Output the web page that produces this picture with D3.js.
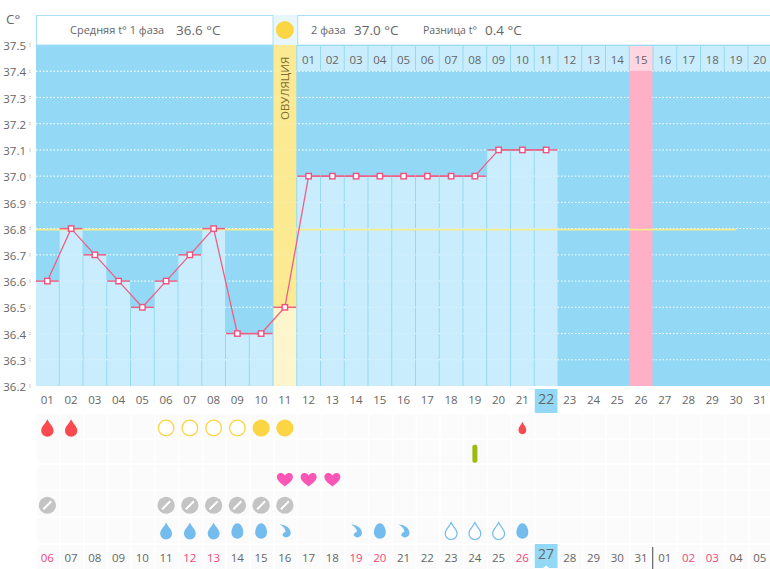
<!DOCTYPE html>
<html>
<head>
<meta charset="utf-8">
<script src="https://cdn.jsdelivr.net/npm/d3@7"></script>
<style>
body { margin: 0; background: #fff; overflow: hidden; }
text { font-family: "Open Sans", "Noto Sans", sans-serif; fill: #666; }
</style>
</head>
<body>
<div id="chart"></div>
<script>
// значения с графика
const cycleDays = d3.range(1, 32).map(d => String(d).padStart(2, "0"));
const temps = [36.6, 36.8, 36.7, 36.6, 36.5, 36.6, 36.7, 36.8, 36.4, 36.4, 36.5, 37.0, 37.0, 37.0, 37.0, 37.0, 37.0, 37.0, 37.0, 37.1, 37.1, 37.1];
const yTicks = [37.5, 37.4, 37.3, 37.2, 37.1, 37.0, 36.9, 36.8, 36.7, 36.6, 36.5, 36.4, 36.3, 36.2];
const coverLine = 36.8;
const ovulationDay = "11";
const pinkDay = "26";
const todayDay = "22";
const phase2Labels = d3.range(1, 21).map(d => String(d).padStart(2, "0"));
const dateLabels = ["06", "07", "08", "09", "10", "11", "12", "13", "14", "15", "16", "17", "18", "19", "20", "21", "22", "23", "24", "25", "26", "27", "28", "29", "30", "31", "01", "02", "03", "04", "05"];
const redDates = [0, 6, 7, 13, 14, 20, 27, 28];
const rows = ["blood", "test", "love", "pill", "mucus"];
const bloodDays = [["01", "big"], ["02", "big"], ["21", "small"]];
const ringDays = [["06", "open"], ["07", "open"], ["08", "open"], ["09", "open"], ["10", "full"], ["11", "full"]];
const testDays = ["19"];
const heartDays = ["11", "12", "13"];
const pillDays = ["01", "06", "07", "08", "09", "10", "11"];
const mucusDays = [["06", "drop"], ["07", "drop"], ["08", "drop"], ["09", "egg"], ["10", "egg"], ["11", "curl"], ["14", "curl"], ["15", "egg"], ["16", "curl"], ["18", "open"], ["19", "open"], ["20", "open"], ["21", "egg"]];

const width = 770, height = 569;
const plotLeft = 36, plotTop = 45, plotBottom = 386;

const svg = d3.select("#chart").append("svg").attr("width", width).attr("height", height).style("display", "block");

const x = d3.scaleBand().domain(cycleDays).range([plotLeft, plotLeft + 23.75 * 31]);
const y = d3.scaleLinear().domain([36.2, 37.5]).range([plotBottom, plotTop]);
const rowY = d3.scalePoint().domain(rows).range([428, 531]);
const cx = d => x(d) + x.bandwidth() / 2 - 0.5;

// фон
svg.append("rect").attr("x", plotLeft).attr("y", plotTop).attr("width", width - plotLeft).attr("height", plotBottom - plotTop).attr("fill", "#93d9f5");

// сетка
svg.append("g").selectAll("line").data(yTicks.slice(1, -1)).join("line")
    .attr("x1", plotLeft).attr("x2", width)
    .attr("y1", d => y(d)).attr("y2", d => y(d))
    .attr("stroke", "#fff").attr("stroke-dasharray", "1.5 2");

// овуляция и розовый день
const ovuX = x(ovulationDay);
svg.append("rect").attr("x", ovuX).attr("y", plotTop).attr("width", x.bandwidth() - 1).attr("height", y(36.5) - plotTop).attr("fill", "#fbea92");
svg.append("rect").attr("x", ovuX).attr("y", y(36.5)).attr("width", x.bandwidth() - 1).attr("height", plotBottom - y(36.5)).attr("fill", "#fdf6cd");
svg.append("rect").attr("x", x(pinkDay)).attr("y", 71).attr("width", x.bandwidth() - 1).attr("height", plotBottom - 71).attr("fill", "#ffb0c6");

// столбики
svg.append("g").selectAll("rect").data(temps.map((t, i) => ({ day: cycleDays[i], t })).filter(d => d.day !== ovulationDay)).join("rect")
    .attr("x", d => x(d.day))
    .attr("y", d => y(d.t))
    .attr("width", x.bandwidth() - 1)
    .attr("height", d => plotBottom - y(d.t))
    .attr("fill", "#c9edfd");

svg.append("g").selectAll("line").data(yTicks.slice(1, -1)).join("line")
    .attr("x1", plotLeft).attr("x2", x(todayDay) + x.bandwidth())
    .attr("y1", d => y(d)).attr("y2", d => y(d))
    .attr("stroke", "#fff").attr("stroke-opacity", 0.3).attr("stroke-dasharray", "1.5 2");

// шапка
svg.append("rect").attr("x", plotLeft).attr("y", 15).attr("width", width - plotLeft).attr("height", 30).attr("fill", "#e8f7fd");
[[plotLeft + 0.5, ovuX - 0.5], [x("12") + 0.5, width + 2]].forEach(p => {
    svg.append("rect").attr("x", p[0]).attr("y", 15.5).attr("width", p[1] - p[0]).attr("height", 29.5)
        .attr("fill", "#fff").attr("stroke", "#a6e0f7");
});
svg.append("circle").attr("cx", cx(ovulationDay)).attr("cy", 30).attr("r", 9).attr("fill", "#fcd545");

svg.append("text").attr("x", 70).attr("y", 34).attr("font-size", 11).text("Средняя t° 1 фаза");
svg.append("text").attr("x", 176).attr("y", 35).attr("font-size", 13.5).text("36.6 °C");
svg.append("text").attr("x", 311).attr("y", 34).attr("font-size", 11).text("2 фаза");
svg.append("text").attr("x", 354).attr("y", 35).attr("font-size", 13.5).text("37.0 °C");
svg.append("text").attr("x", 423).attr("y", 34).attr("font-size", 10.5).text("Разница t°");
svg.append("text").attr("x", 485).attr("y", 35).attr("font-size", 13.5).text("0.4 °C");

svg.append("text")
    .attr("transform", `translate(${cx(ovulationDay) + 4.5},120) rotate(-90)`)
    .attr("font-size", 11.5).style("fill", "#7d6d32").text("ОВУЛЯЦИЯ");

// дни второй фазы
const phaseCell = svg.append("g").selectAll("g").data(phase2Labels).join("g")
    .attr("transform", (d, i) => `translate(${x(cycleDays[i + 11])},46)`);
phaseCell.append("rect").attr("width", x.bandwidth() - 1).attr("height", 25)
    .attr("fill", (d, i) => cycleDays[i + 11] === pinkDay ? "#ffd5e0" : "#c9edfd");
phaseCell.append("text").attr("x", x.bandwidth() / 2 - 0.5).attr("y", 18).attr("text-anchor", "middle").attr("font-size", 11.5).text(d => d);

// ось y
svg.append("text").attr("x", 6).attr("y", 24).attr("font-size", 13.5).text("C°");
const yAxis = svg.append("g").attr("transform", "translate(30,0)")
    .call(d3.axisLeft(y).tickValues(yTicks).tickFormat(d3.format(".1f")).tickSize(0).tickPadding(4));
yAxis.select(".domain").remove();
yAxis.selectAll("text").attr("font-size", 11.5).attr("font-family", null).attr("y", 1);
yAxis.selectAll(".tick line").attr("y1", -2).attr("y2", 2).attr("x2", 0).attr("stroke", "#999").attr("stroke-dasharray", "1 1");

// подсветка сегодняшнего дня
svg.append("rect").attr("x", x(todayDay)).attr("y", 389).attr("width", x.bandwidth() - 1).attr("height", 24).attr("fill", "#93d9f5");

const xAxis = svg.append("g").attr("transform", "translate(-0.5,385)")
    .call(d3.axisBottom(x).tickSize(0).tickPadding(11));
xAxis.select(".domain").remove();
xAxis.selectAll("text").attr("font-size", 11.5).attr("font-family", null);
xAxis.selectAll(".tick").filter(d => d === todayDay).select("text").attr("font-size", 14).attr("dy", "0.6em");

// строки значков
const rowTops = [414, 440, 465, 491, 518, 545];
const rowHeights = [24, 23, 25, 25, 25, 24];
rowTops.forEach((top, r) => {
    svg.append("g").selectAll("rect").data(cycleDays).join("rect")
        .attr("x", d => x(d) + 1)
        .attr("y", top)
        .attr("width", x.bandwidth() - 1.5)
        .attr("height", rowHeights[r])
        .attr("fill", "#fbfbfb");
});

// нижние даты
svg.append("rect").attr("x", x(todayDay)).attr("y", 544).attr("width", x.bandwidth() - 1).attr("height", 24).attr("fill", "#93d9f5");
svg.append("path").attr("transform", `translate(${cx(todayDay)},568)`).attr("d", "M-3,0L0,-2.5L3,0Z").attr("fill", "#fff");
svg.append("g").selectAll("text").data(dateLabels).join("text")
    .attr("x", (d, i) => cx(cycleDays[i]))
    .attr("y", (d, i) => i === 21 ? 559 : 562)
    .attr("text-anchor", "middle")
    .attr("font-size", (d, i) => i === 21 ? 14 : 11.5)
    .style("fill", (d, i) => redDates.includes(i) ? "#f0477b" : "#666")
    .text(d => d);
svg.append("line").attr("x1", x(pinkDay) + 23).attr("x2", x(pinkDay) + 23).attr("y1", 547).attr("y2", 569).attr("stroke", "#444");

// значки
const dropPath = "M0,-10C2,-5 7,-2 7,3A7,7 0 0 1 -7,3C-7,-2 -2,-5 0,-10Z";
const eggPath = "M0,-9C4,-9 7,-3 7,2A7,7 0 0 1 -7,2C-7,-3 -4,-9 0,-9Z";
const curlPath = "M-6,-8C2,-7 7,-3 7,3A5.5,5.5 0 0 1 -3,5C-2,2 0,1 1,1C1,-3 -3,-6 -6,-8Z";
const heartPath = "M0,7C-5,3 -8,1 -8,-3A4.2,4.2 0 0 1 0,-4A4.2,4.2 0 0 1 8,-3C8,1 5,3 0,7Z";
const place = (sel, row, k = 1) => sel.attr("transform", d => `translate(${cx(Array.isArray(d) ? d[0] : d)},${rowY(row)}) scale(${k})`);

svg.append("g").selectAll("path").data(bloodDays).join("path")
    .attr("d", dropPath).attr("fill", "#fb4a4f")
    .attr("transform", d => `translate(${cx(d[0])},${rowY("blood")}) scale(${d[1] === "big" ? 0.88 : 0.55},${d[1] === "big" ? 0.88 : 0.62})`);

place(svg.append("g").selectAll("circle").data(ringDays).join("circle"), "blood")
    .attr("r", d => d[1] === "open" ? 7.8 : 8.6)
    .attr("fill", d => d[1] === "open" ? "#fff" : "#fcd545")
    .attr("stroke", "#fcd545").attr("stroke-width", d => d[1] === "open" ? 1.3 : 0);

place(svg.append("g").selectAll("rect").data(testDays).join("rect"), "test")
    .attr("x", -2.5).attr("y", -9).attr("width", 5).attr("height", 18).attr("rx", 2).attr("fill", "#9cbb10");

place(svg.append("g").selectAll("path").data(heartDays).join("path"), "love")
    .attr("d", heartPath).attr("fill", "#fb55b5");

const pills = place(svg.append("g").selectAll("g").data(pillDays).join("g"), "pill");
pills.append("circle").attr("r", 8.6).attr("fill", "#c4c4c4");
pills.append("line").attr("x1", -4).attr("y1", 4).attr("x2", 4).attr("y2", -4).attr("stroke", "#fff").attr("stroke-width", 2);

place(svg.append("g").selectAll("path").data(mucusDays).join("path"), "mucus", 0.85)
    .attr("d", d => d[1] === "drop" || d[1] === "open" ? dropPath : d[1] === "egg" ? eggPath : curlPath)
    .attr("fill", d => d[1] === "open" ? "#fff" : "#74bcee")
    .attr("stroke", d => d[1] === "open" ? "#74bcee" : "none")
    .attr("stroke-width", 1.4);

// линия температуры
svg.append("line").attr("x1", plotLeft).attr("x2", 736)
    .attr("y1", y(coverLine) + 1).attr("y2", y(coverLine) + 1)
    .attr("stroke", "#f5ec8e").attr("stroke-width", 1.6);

const tempData = temps.map((t, i) => ({ day: cycleDays[i], t }));
svg.append("g").selectAll("line").data(tempData).join("line")
    .attr("x1", d => x(d.day)).attr("x2", d => x(d.day) + x.bandwidth() - 1)
    .attr("y1", d => y(d.t)).attr("y2", d => y(d.t))
    .attr("stroke", "#ee5f86").attr("stroke-width", 1.5);
svg.append("path").datum(tempData)
    .attr("d", d3.line().x(d => cx(d.day)).y(d => y(d.t)))
    .attr("fill", "none").attr("stroke", "#ee5f86").attr("stroke-width", 1.3);
svg.append("g").selectAll("rect").data(tempData).join("rect")
    .attr("x", d => cx(d.day) - 2.7).attr("y", d => y(d.t) - 2.7)
    .attr("width", 5.4).attr("height", 5.4)
    .attr("fill", "#fff").attr("stroke", "#f0517f").attr("stroke-width", 1.4);
</script>
</body>
</html>
